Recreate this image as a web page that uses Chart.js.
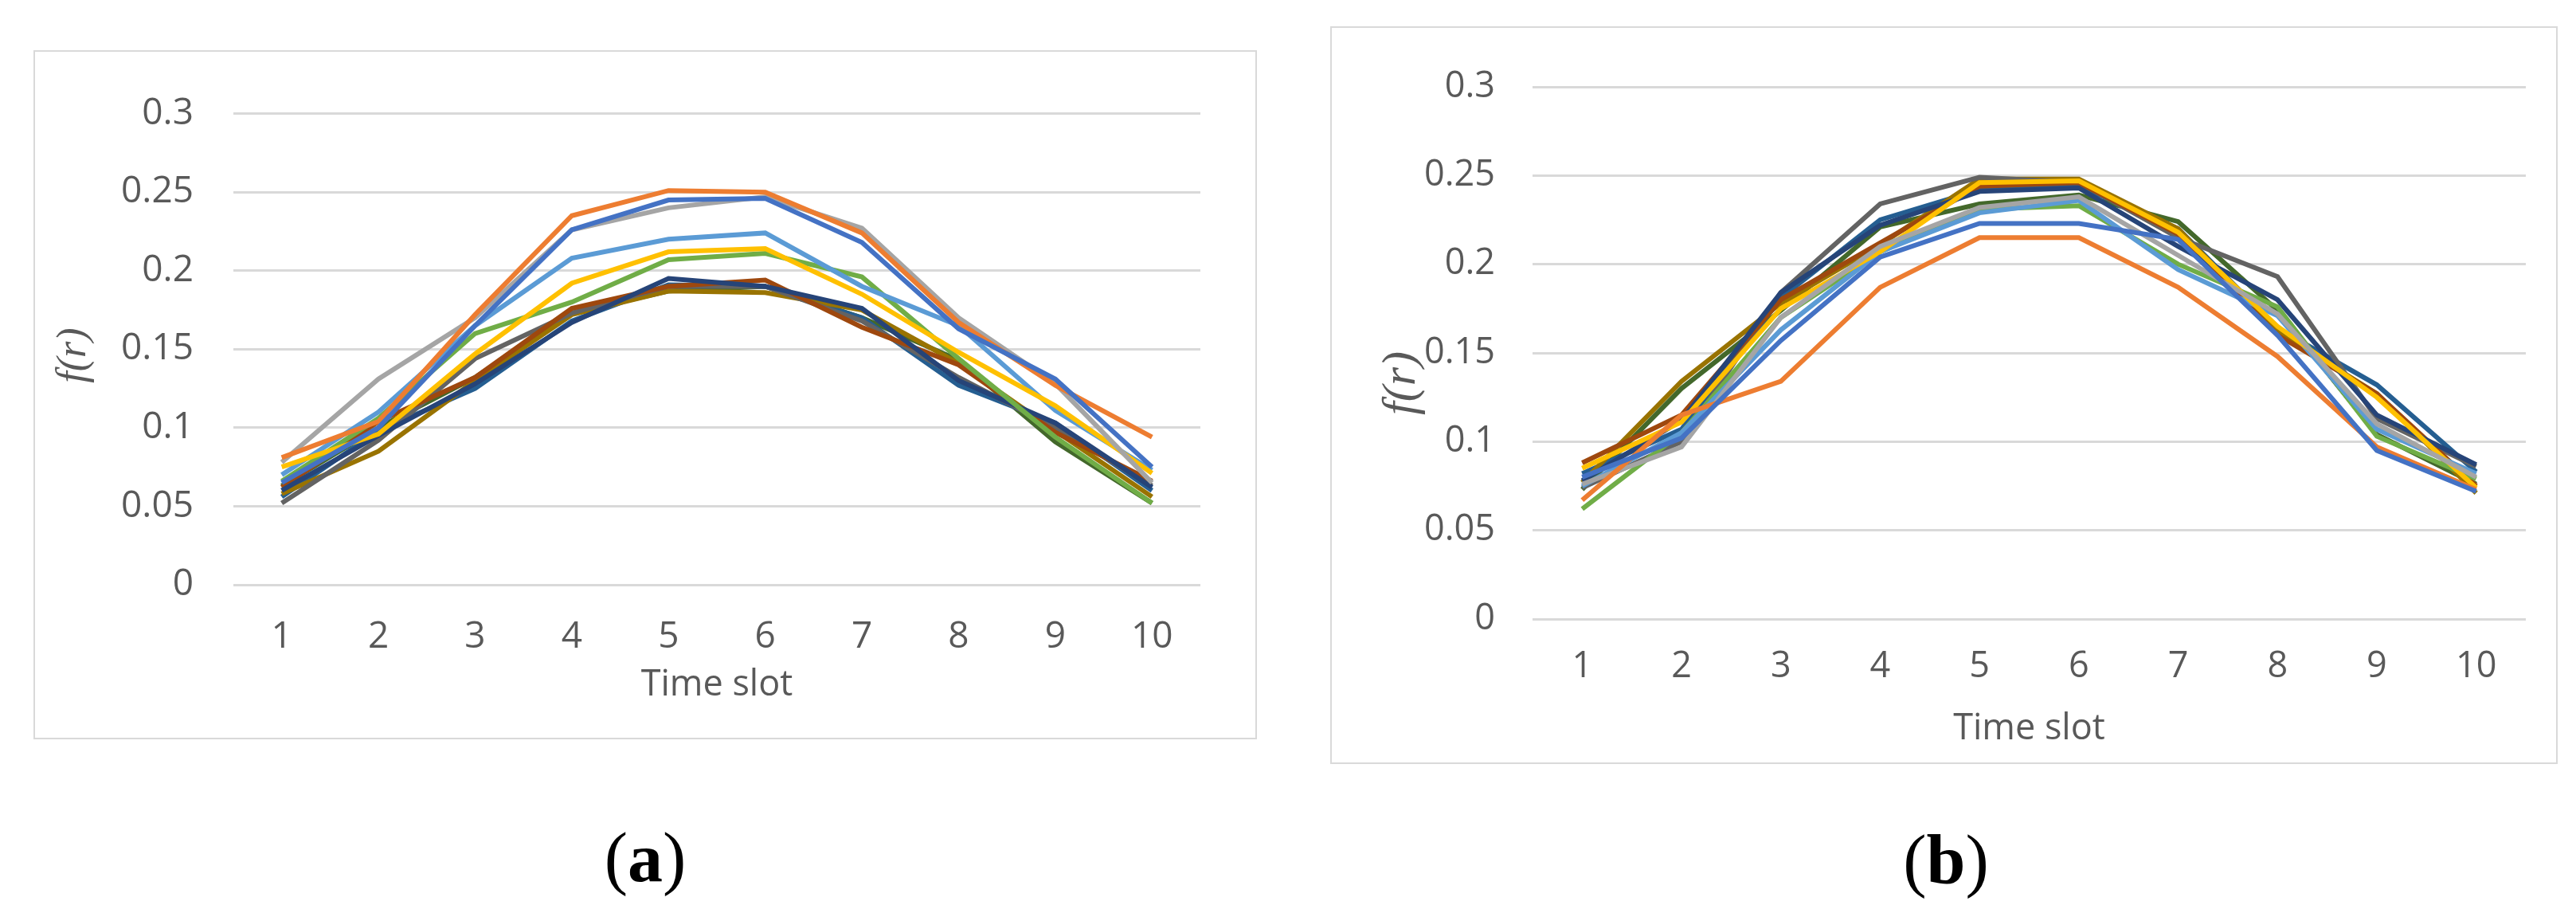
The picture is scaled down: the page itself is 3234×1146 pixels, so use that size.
<!DOCTYPE html>
<html>
<head>
<meta charset="utf-8">
<script src="https://cdn.jsdelivr.net/npm/chart.js@4.4.1/dist/chart.umd.min.js"></script>
<style>
  body { margin: 0; width: 3234px; height: 1146px; background: #fff; position: relative; overflow: hidden; }
  .frame { position: absolute; border: 2px solid #d9d9d9; box-sizing: border-box; background: #fff; }
  .frame canvas { display: block; }
  .cap { position: absolute; font-family: 'Liberation Serif', 'Times New Roman', serif; font-size: 88px; color: #000; transform: translate(-50%, -50%); white-space: nowrap; line-height: 1; }
  .cap b { font-weight: bold; }
</style>
</head>
<body>
<div class="frame" style="left:42px; top:63px; width:1536px; height:865px;"><canvas id="chartA" width="1532" height="861"></canvas></div>
<div class="frame" style="left:1670px; top:33px; width:1541px; height:926px;"><canvas id="chartB" width="1537" height="922"></canvas></div>
<div class="cap" style="left:810px; top:1077px;">(<b>a</b>)</div>
<div class="cap" style="left:2443px; top:1080px;">(<b>b</b>)</div>
<script>
const timeSlots = ['1', '2', '3', '4', '5', '6', '7', '8', '9', '10'];
const yTicks = [0, 0.05, 0.1, 0.15, 0.2, 0.25, 0.3];

// Office palette, in series order
const colors = ['#4472C4', '#ED7D31', '#A5A5A5', '#FFC000', '#5B9BD5', '#70AD47',
                '#264478', '#9E480E', '#636363', '#997300', '#255E91', '#43682B'];

// panel (a)
const aBlue      = [0.065, 0.100, 0.165, 0.226, 0.245, 0.246, 0.218, 0.163, 0.131, 0.075];
const aOrange    = [0.081, 0.104, 0.172, 0.235, 0.251, 0.250, 0.224, 0.167, 0.127, 0.094];
const aGray      = [0.078, 0.131, 0.170, 0.226, 0.240, 0.247, 0.227, 0.170, 0.128, 0.065];
const aYellow    = [0.075, 0.096, 0.147, 0.192, 0.212, 0.214, 0.185, 0.148, 0.114, 0.071];
const aLightBlue = [0.070, 0.110, 0.165, 0.208, 0.220, 0.224, 0.190, 0.165, 0.111, 0.073];
const aGreen     = [0.066, 0.106, 0.160, 0.180, 0.207, 0.211, 0.196, 0.144, 0.094, 0.052];
const aDarkBlue  = [0.060, 0.095, 0.128, 0.167, 0.195, 0.190, 0.176, 0.130, 0.103, 0.062];
const aBrown     = [0.062, 0.104, 0.132, 0.176, 0.190, 0.194, 0.164, 0.140, 0.097, 0.066];
const aDarkGray  = [0.052, 0.092, 0.144, 0.173, 0.190, 0.190, 0.168, 0.132, 0.100, 0.063];
const aDarkYel   = [0.058, 0.085, 0.130, 0.172, 0.187, 0.186, 0.175, 0.141, 0.098, 0.056];
const aSteel     = [0.056, 0.098, 0.125, 0.168, 0.191, 0.190, 0.170, 0.127, 0.103, 0.060];
const aDarkGreen = [0.063, 0.100, 0.132, 0.173, 0.187, 0.190, 0.170, 0.143, 0.091, 0.052];

// panel (b)
const bBlue      = [0.080, 0.102, 0.157, 0.204, 0.223, 0.223, 0.214, 0.160, 0.095, 0.072];
const bOrange    = [0.067, 0.115, 0.134, 0.187, 0.215, 0.215, 0.187, 0.148, 0.097, 0.073];
const bGray      = [0.076, 0.097, 0.170, 0.210, 0.232, 0.238, 0.205, 0.172, 0.110, 0.080];
const bYellow    = [0.085, 0.111, 0.175, 0.207, 0.246, 0.247, 0.218, 0.165, 0.125, 0.074];
const bLightBlue = [0.075, 0.105, 0.163, 0.207, 0.229, 0.236, 0.197, 0.171, 0.107, 0.082];
const bGreen     = [0.062, 0.105, 0.170, 0.207, 0.231, 0.233, 0.200, 0.176, 0.103, 0.079];
const bDarkBlue  = [0.078, 0.112, 0.184, 0.222, 0.241, 0.243, 0.210, 0.180, 0.115, 0.087];
const bBrown     = [0.088, 0.115, 0.180, 0.212, 0.244, 0.246, 0.217, 0.160, 0.127, 0.075];
const bDarkGray  = [0.074, 0.100, 0.184, 0.234, 0.249, 0.246, 0.215, 0.193, 0.113, 0.086];
const bDarkYel   = [0.077, 0.134, 0.178, 0.211, 0.248, 0.248, 0.220, 0.162, 0.127, 0.071];
const bSteel     = [0.082, 0.107, 0.181, 0.225, 0.242, 0.244, 0.220, 0.164, 0.132, 0.083];
const bDarkGreen = [0.073, 0.130, 0.174, 0.221, 0.234, 0.239, 0.224, 0.174, 0.104, 0.076];

const seriesA = [aBlue, aOrange, aGray, aYellow, aLightBlue, aGreen, aDarkBlue, aBrown, aDarkGray, aDarkYel, aSteel, aDarkGreen];
const seriesB = [bBlue, bOrange, bGray, bYellow, bLightBlue, bGreen, bDarkBlue, bBrown, bDarkGray, bDarkYel, bSteel, bDarkGreen];

const textGray = '#595959';
const gridGray = '#d9d9d9';

// rotated f(r) label, placed where Excel put it
const sideTitle = {
    id: 'sideTitle',
    afterDraw(chart, args, opts) {
        const ctx = chart.ctx;
        ctx.save();
        ctx.translate(opts.x, opts.y);
        ctx.rotate(-Math.PI / 2);
        ctx.font = 'italic ' + opts.size + 'px "Liberation Serif", serif';
        ctx.fillStyle = textGray;
        ctx.textAlign = 'center';
        ctx.textBaseline = 'middle';
        ctx.fillText(opts.text, 0, 0);
        ctx.restore();
    }
};

function makeChart(id, series, lay) {
    const ctx = document.getElementById(id).getContext('2d');
    return new Chart(ctx, {
        type: 'line',
        data: {
            labels: timeSlots,
            datasets: series.map((s, i) => ({
                data: s,
                borderColor: colors[i],
                backgroundColor: colors[i],
                borderWidth: 6,
                pointRadius: 0,
                tension: 0,
                fill: false
            }))
        },
        plugins: [sideTitle],
        options: {
            responsive: false,
            animation: false,
            layout: { padding: { top: lay.top, right: lay.right, left: 0, bottom: 0 } },
            plugins: {
                legend: { display: false },
                tooltip: { enabled: false },
                sideTitle: { text: 'f(r)', x: lay.fx, y: lay.fy, size: lay.fsize }
            },
            scales: {
                x: {
                    offset: true,
                    grid: { display: false, drawTicks: false },
                    border: { display: false },
                    ticks: { color: textGray, font: { family: 'Open Sans', size: lay.tick }, padding: lay.xPad, maxRotation: 0 },
                    title: { display: true, text: 'Time slot', color: textGray, font: { family: 'Open Sans', size: lay.title }, padding: { top: 0, bottom: lay.titlePad } },
                    afterFit(scale) { scale.height = lay.below; }
                },
                y: {
                    min: 0,
                    max: 0.3,
                    afterBuildTicks(scale) { scale.ticks = yTicks.map(v => ({ value: v })); },
                    grid: { color: gridGray, lineWidth: 3, drawTicks: false },
                    border: { display: false },
                    ticks: {
                        color: textGray,
                        font: { family: 'Open Sans', size: lay.tick },
                        padding: lay.yPad,
                        callback: v => String(+v.toFixed(2))
                    },
                    afterFit(scale) { scale.width = lay.left; }
                }
            }
        }
    });
}

makeChart('chartA', seriesA, { top: 42, right: 69, left: 249, below: 192, yPad: 50, xPad: 38, titlePad: 39, tick: 46, title: 45, fx: 49, fy: 381, fsize: 52 });
makeChart('chartB', seriesB, { top: 35, right: 38, left: 252, below: 180, yPad: 47, xPad: 33, titlePad: 15, tick: 45, title: 45, fx: 88, fy: 446, fsize: 60 });
</script>
</body>
</html>
